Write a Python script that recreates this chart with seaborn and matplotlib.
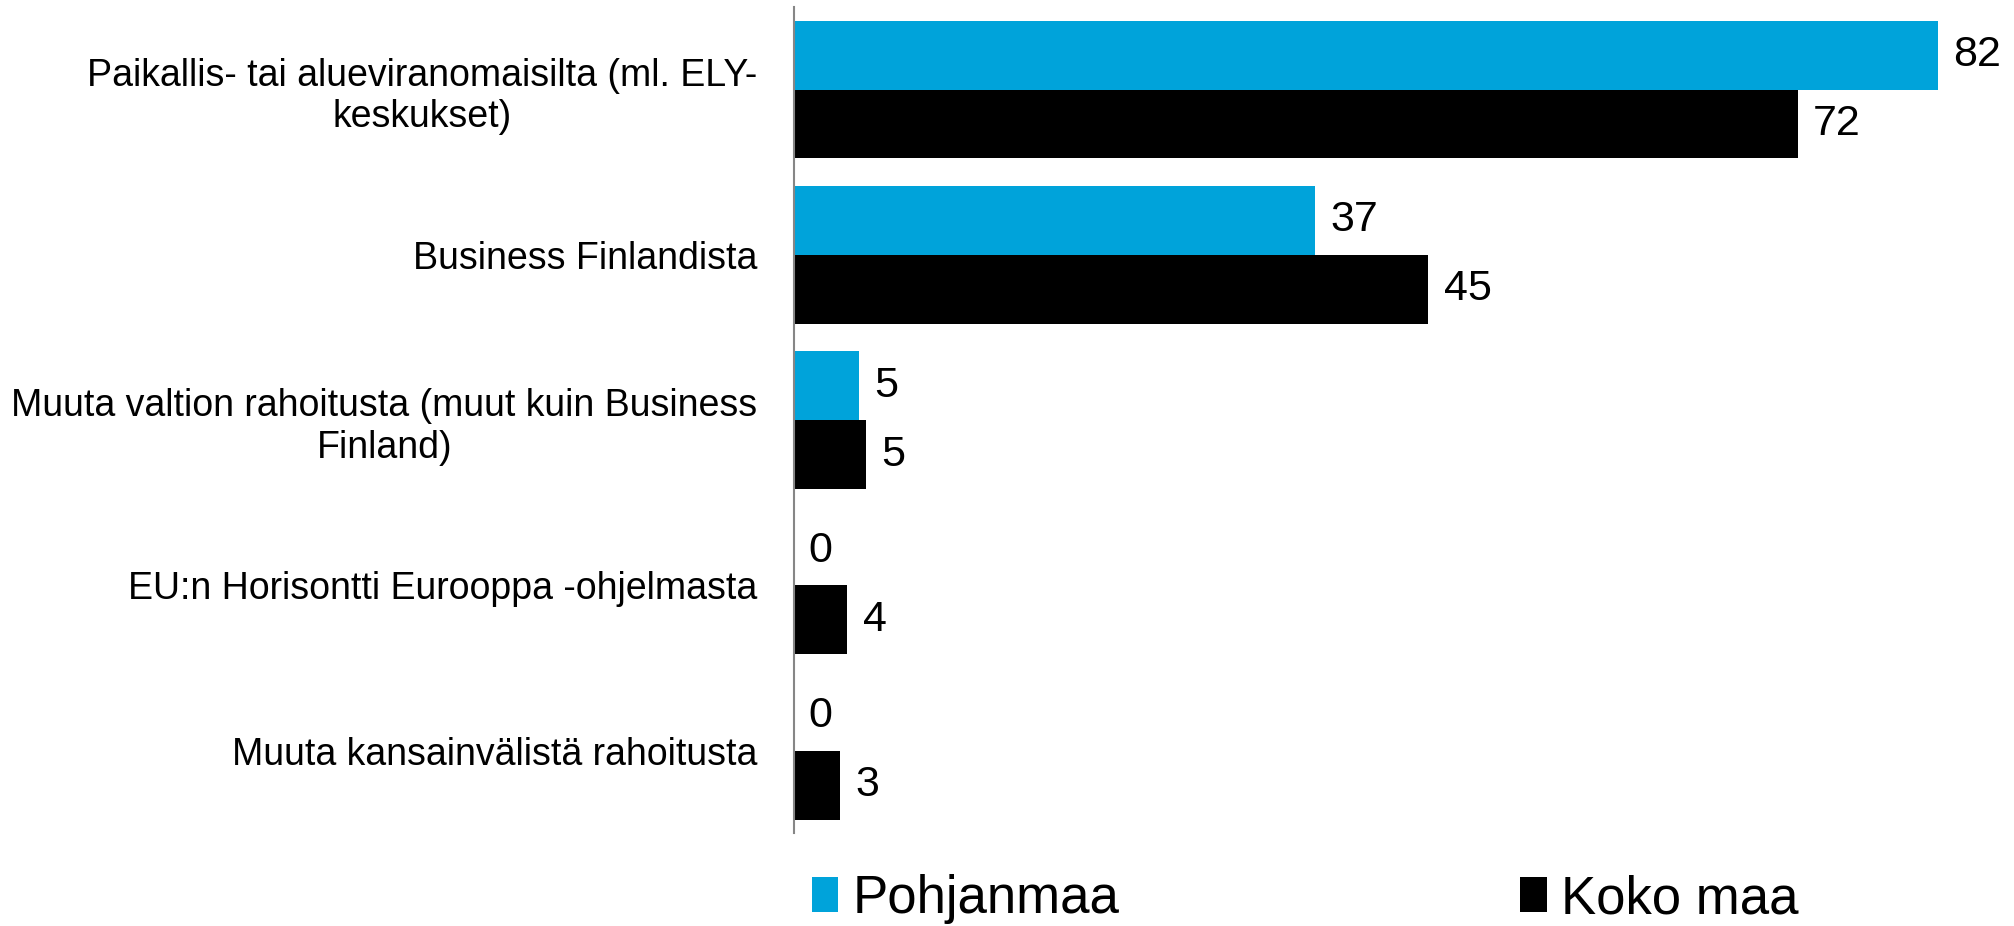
import pandas as pd
import matplotlib
matplotlib.use("Agg")
import matplotlib.pyplot as plt
import seaborn as sns

# Data
categories = [
    "Paikallis- tai alueviranomaisilta (ml. ELY-\nkeskukset)",
    "Business Finlandista",
    "Muuta valtion rahoitusta (muut kuin Business\nFinland)",
    "EU:n Horisontti Eurooppa -ohjelmasta",
    "Muuta kansainvälistä rahoitusta",
]
series_names = ["Pohjanmaa", "Koko maa"]
pohjanmaa = [82.0, 37.35, 4.7, 0.0, 0.0]
koko_maa = [71.95, 45.49, 5.2, 3.85, 3.35]
colors = ["#00A3DA", "#000000"]

df = pd.DataFrame({
    "kategoria": categories * 2,
    "sarja": [series_names[0]] * len(categories) + [series_names[1]] * len(categories),
    "arvo": pohjanmaa + koko_maa,
})

sns.set_theme(style="white")
plt.rcParams["font.family"] = ["Liberation Sans", "DejaVu Sans"]
plt.rcParams["text.color"] = "black"
plt.rcParams["ytick.color"] = "black"

fig = plt.figure(figsize=(20.14, 9.26), dpi=100)
ax = fig.add_axes([0.394, 0.1, 0.589, 0.8926])

sns.barplot(data=df, x="arvo", y="kategoria", hue="sarja", order=categories,
            hue_order=series_names, palette=colors, orient="h", width=0.832,
            saturation=1, linewidth=0, ax=ax, legend=True)

# Valeurs arrondies à droite des barres
for cont in ax.containers:
    ax.bar_label(cont, labels=[f"{v:.0f}" for v in cont.datavalues],
                 padding=11, fontsize=31, color="black")

ax.set_xlim(0, 85)
ax.set_ylim(4.5, -0.5)
ax.set_xlabel("")
ax.set_ylabel("")
ax.set_xticks([])
ax.tick_params(axis="y", length=0, pad=26, labelsize=27, labelcolor="black")
for lbl in ax.get_yticklabels():
    lbl.set_multialignment("center")

sns.despine(ax=ax, top=True, right=True, bottom=True, left=False)
ax.spines["left"].set_color("#868686")
ax.spines["left"].set_linewidth(1.5)

handles, labels = ax.get_legend_handles_labels()
ax.get_legend().remove()
fig.legend(handles, labels, loc="lower left", bbox_to_anchor=(0.403, 0.002),
           ncol=2, frameon=False, fontsize=38, handlelength=0.5, handleheight=0.62,
           handletextpad=0.27, columnspacing=7.6, borderpad=0, borderaxespad=0,
           labelcolor="black")

plt.savefig("out.png", dpi=100)
plt.close()
